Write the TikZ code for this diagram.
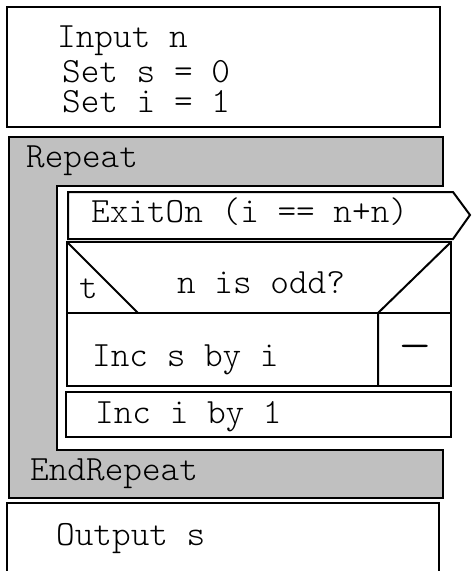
\documentclass[tikz,border=0pt]{standalone}
\usepackage{fontspec}
\setmonofont{Latin Modern Mono Light}
\definecolor{repgray}{RGB}{192,192,192}
\begin{document}
\begin{tikzpicture}[x=1pt,y=-1pt,
  box/.style={draw=black, line width=2pt, line join=miter},
  txt/.style={anchor=base west, inner sep=0pt, font=\fontsize{35.5}{35.5}\selectfont\ttfamily}]
\useasboundingbox (0,0) rectangle (472,571);
% initial block
\draw[box, fill=white] (7,7) rectangle (440,127);
\node[txt] (inp) at (57,47) {Input n};
\node[txt] (sets) at (62,82) {Set s = 0};
\node[txt] (seti) at (62,112) {Set i = 1};
% repeat frame
\draw[box, fill=repgray] (9,137) -- (443,137) -- (443,186) -- (57,186) -- (57,450)
  -- (443,450) -- (443,498) -- (9,498) -- cycle;
\node[txt] (rep) at (26,167) {Repeat};
\node[txt] (endrep) at (30,480) {EndRepeat};
% exit on
\draw[box, fill=white] (68,192) -- (453,192) -- (470,215) -- (453,239) -- (68,239) -- cycle;
\node[txt] (exit) at (91,222) {ExitOn (i == n+n)};
% decision
\draw[box, fill=white] (67,242) rectangle (451,386);
\draw[box] (67,313) -- (451,313);
\draw[box] (67,242) -- (138,313);
\draw[box] (451,242) -- (378,313) -- (378,386);
\node[txt] (tlab) at (79,298) {t};
\node[txt] (cond) at (177,293) {n is odd?};
\node[txt] (incs) at (92,366) {Inc s by i};
\node[txt, anchor=center] (none) at (415.5,353) {\scalebox{1.8}[1.3]{—}};
% increment i
\draw[box, fill=white] (66,392) rectangle (451,437);
\node[txt] (inci) at (95,423) {Inc i by 1};
% output
\draw[box] (7,580) -- (7,503) -- (439,503) -- (439,580);
\node[txt] (outp) at (56,545) {Output s};
\end{tikzpicture}
\end{document}
